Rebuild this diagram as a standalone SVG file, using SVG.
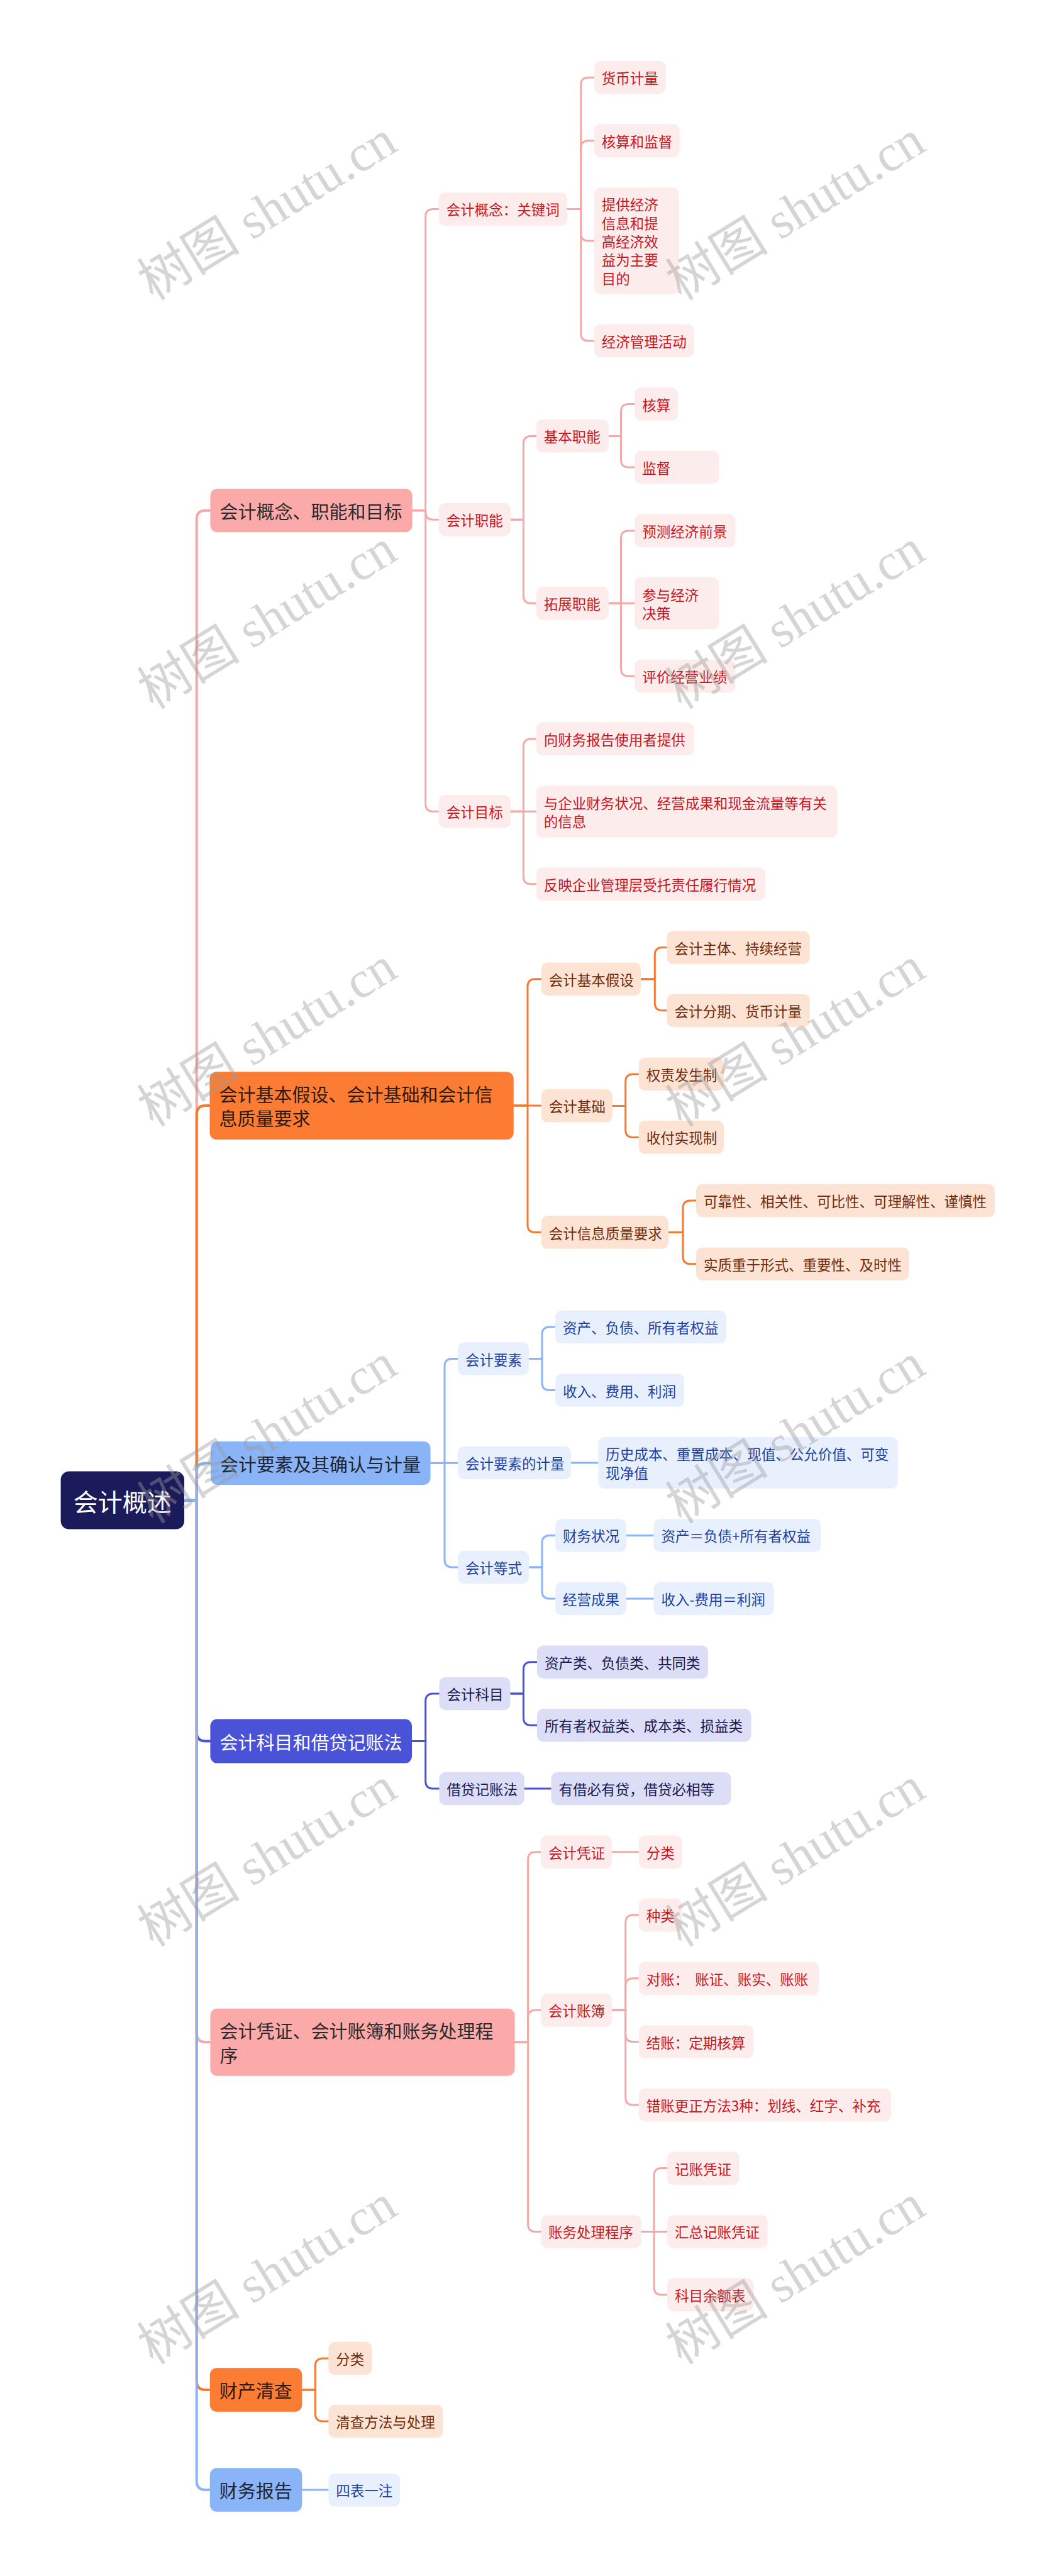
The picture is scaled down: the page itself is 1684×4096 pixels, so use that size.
<svg xmlns="http://www.w3.org/2000/svg" width="1684" height="4096" viewBox="0 0 1684 4096">
<style>
text{font-family:"Noto Sans CJK SC","Noto Sans",sans-serif;dominant-baseline:central}
.tm{font-size:29px;fill:#2b2b2b}
.ts{font-size:22.5px}
.root{fill:#1b1a5a}
.m1{fill:#fba9a9}.m2{fill:#fc7c33}.m3{fill:#8ab4f8}.m4{fill:#4a52d8}
.s1{fill:#fdecec}.s2{fill:#fde3d3}.s3{fill:#e8f0fe}.s4{fill:#dcddf7}
.p1{fill:#c8171e}.p2{fill:#6e2c0c}.p3{fill:#1c3fa3}.p4{fill:#1a1a50}
#connectors path{fill:none;stroke-linecap:round}
.c1{stroke:#f5a8a8}.c2{stroke:#f47a30}.c3{stroke:#8ab4f8}.c4{stroke:#4a52d8}
.w4{stroke-width:4}.w3{stroke-width:3}
.wm{font-family:"Liberation Serif","Noto Sans CJK SC",serif;font-size:82px;fill:#9a9a9a;fill-opacity:0.42;text-anchor:middle}
</style>
<rect x="0" y="0" width="1684" height="4096" fill="#ffffff"/>
<g id="connectors">
<!-- root to main -->
<path class="c1 w4" d="M293 2385.6 H312.7 V825.7 Q312.7 811.7 326.7 811.7 H334.4"/>
<path class="c2 w4" d="M293 2385.6 H312.7 V1772 Q312.7 1758 326.7 1758 H334.4"/>
<path class="c3 w4" d="M293 2385.6 H312.7 V2340.5 Q312.7 2326.5 326.7 2326.5 H334.4"/>
<path class="c4 w4" d="M293 2385.6 H312.7 V2754.6 Q312.7 2768.6 326.7 2768.6 H334.4"/>
<path class="c1 w4" d="M293 2385.6 H312.7 V3233 Q312.7 3247 326.7 3247 H334.4"/>
<path class="c2 w4" d="M293 2385.6 H312.7 V3786 Q312.7 3800 326.7 3800 H334.4"/>
<path class="c3 w4" d="M293 2385.6 H312.7 V3945 Q312.7 3959 326.7 3959 H334.4"/>
<!-- branch 1 -->
<path class="c1 w3" d="M655.7 811.7 H676.7 V344.4 Q676.7 332.4 688.7 332.4 H697.7"/>
<path class="c1 w3" d="M655.7 811.7 H676.7 V814.2 Q676.7 826.2 688.7 826.2 H697.7"/>
<path class="c1 w3" d="M655.7 811.7 H676.7 V1278.3 Q676.7 1290.3 688.7 1290.3 H697.7"/>
<path class="c1 w3" d="M902 332.4 H923.7 V135.2 Q923.7 123.2 935.7 123.2 H944.8"/>
<path class="c1 w3" d="M902 332.4 H923.7 V235.7 Q923.7 223.7 935.7 223.7 H944.8"/>
<path class="c1 w3" d="M902 332.4 H923.7 V371 Q923.7 383 935.7 383 H944.8"/>
<path class="c1 w3" d="M902 332.4 H923.7 V530 Q923.7 542 935.7 542 H944.8"/>
<path class="c1 w3" d="M812 826.2 H832.4 V705.4 Q832.4 693.4 844.4 693.4 H852.8"/>
<path class="c1 w3" d="M812 826.2 H832.4 V947.2 Q832.4 959.2 844.4 959.2 H852.8"/>
<path class="c1 w3" d="M967.8 693.4 H987.5 V654.5 Q987.5 642.5 999.5 642.5 H1009.2"/>
<path class="c1 w3" d="M967.8 693.4 H987.5 V731 Q987.5 743 999.5 743 H1009.2"/>
<path class="c1 w3" d="M967.8 959.2 H987.5 V856 Q987.5 844 999.5 844 H1009.2"/>
<path class="c1 w3" d="M967.8 959.2 H1009.2"/>
<path class="c1 w3" d="M967.8 959.2 H987.5 V1063 Q987.5 1075 999.5 1075 H1009.2"/>
<path class="c1 w3" d="M812 1290.3 H832.4 V1187 Q832.4 1175 844.4 1175 H852.8"/>
<path class="c1 w3" d="M812 1290.3 H852.8"/>
<path class="c1 w3" d="M812 1290.3 H832.4 V1393.7 Q832.4 1405.7 844.4 1405.7 H852.8"/>
<!-- branch 2 -->
<path class="c2 w3" d="M816.7 1758 H839 V1568.7 Q839 1556.7 851 1556.7 H860.7"/>
<path class="c2 w3" d="M816.7 1758 H860.7"/>
<path class="c2 w3" d="M816.7 1758 H839 V1947.5 Q839 1959.5 851 1959.5 H860.7"/>
<path class="c2 w3" d="M1019 1556.7 H1041.3 V1518.5 Q1041.3 1506.5 1053.3 1506.5 H1060.4"/>
<path class="c2 w3" d="M1019 1556.7 H1041.3 V1594.7 Q1041.3 1606.7 1053.3 1606.7 H1060.4"/>
<path class="c2 w3" d="M973.7 1758.4 H994.7 V1720 Q994.7 1708 1006.7 1708 H1015.7"/>
<path class="c2 w3" d="M973.7 1758.4 H994.7 V1796.4 Q994.7 1808.4 1006.7 1808.4 H1015.7"/>
<path class="c2 w3" d="M1063 1959.5 H1086 V1921 Q1086 1909 1098 1909 H1107"/>
<path class="c2 w3" d="M1063 1959.5 H1086 V1997.7 Q1086 2009.7 1098 2009.7 H1107"/>
<!-- branch 3 -->
<path class="c3 w3" d="M684.6 2326.5 H707 V2172.5 Q707 2160.5 719 2160.5 H728"/>
<path class="c3 w3" d="M684.6 2326.2 H728"/>
<path class="c3 w3" d="M684.6 2326.5 H707 V2480 Q707 2492 719 2492 H728"/>
<path class="c3 w3" d="M841 2160.5 H862 V2122 Q862 2110 874 2110 H883"/>
<path class="c3 w3" d="M841 2160.5 H862 V2198.5 Q862 2210.5 874 2210.5 H883"/>
<path class="c3 w3" d="M908 2326 H951.3"/>
<path class="c3 w3" d="M841 2492 H862 V2453.4 Q862 2441.4 874 2441.4 H883"/>
<path class="c3 w3" d="M841 2492 H862 V2530 Q862 2542 874 2542 H883"/>
<path class="c3 w3" d="M996 2441.4 H1039.4"/>
<path class="c3 w3" d="M996 2542 H1039.4"/>
<!-- branch 4 -->
<path class="c4 w3" d="M655 2768.6 H676.7 V2705 Q676.7 2693 688.7 2693 H698.4"/>
<path class="c4 w3" d="M655 2768.6 H676.7 V2832 Q676.7 2844 688.7 2844 H698.4"/>
<path class="c4 w3" d="M811.4 2693 H832.4 V2654.7 Q832.4 2642.7 844.4 2642.7 H854"/>
<path class="c4 w3" d="M811.4 2693 H832.4 V2731.3 Q832.4 2743.3 844.4 2743.3 H854"/>
<path class="c4 w3" d="M833.7 2844 H876.4"/>
<!-- branch 5 -->
<path class="c1 w3" d="M818.6 3247 H839.6 V2956.7 Q839.6 2944.7 851.6 2944.7 H860"/>
<path class="c1 w3" d="M818.6 3247 H839.6 V3208.3 Q839.6 3196.3 851.6 3196.3 H860"/>
<path class="c1 w3" d="M818.6 3247 H839.6 V3536.4 Q839.6 3548.4 851.6 3548.4 H860"/>
<path class="c1 w3" d="M973 2944.7 H1015.7"/>
<path class="c1 w3" d="M973 3196.3 H994.7 V3057 Q994.7 3045 1006.7 3045 H1015.7"/>
<path class="c1 w3" d="M973 3196.3 H994.7 V3157.7 Q994.7 3145.7 1006.7 3145.7 H1015.7"/>
<path class="c1 w3" d="M973 3196.3 H994.7 V3234.5 Q994.7 3246.5 1006.7 3246.5 H1015.7"/>
<path class="c1 w3" d="M973 3196.3 H994.7 V3335 Q994.7 3347 1006.7 3347 H1015.7"/>
<path class="c1 w3" d="M1019.6 3548.4 H1040 V3459.6 Q1040 3447.6 1052 3447.6 H1061"/>
<path class="c1 w3" d="M1019.6 3548.4 H1061"/>
<path class="c1 w3" d="M1019.6 3548.4 H1040 V3636.7 Q1040 3648.7 1052 3648.7 H1061"/>
<!-- branch 6, 7 -->
<path class="c2 w3" d="M480.3 3800 H501.3 V3762 Q501.3 3750 513.3 3750 H522.3"/>
<path class="c2 w3" d="M480.3 3800 H501.3 V3838 Q501.3 3850 513.3 3850 H522.3"/>
<path class="c3 w3" d="M480.3 3959 H522.3"/>
</g>

<g id="root"><rect class="root" x="96.6" y="2339.6" width="196.4" height="92" rx="13"/><text x="194.8" y="2385.6" font-size="39" fill="#ffffff" text-anchor="middle">会计概述</text></g>

<!-- main 1 -->
<g id="m1"><rect class="m1" x="334.4" y="777.2" width="321.3" height="69" rx="11"/><text class="tm" x="349.5" y="811.7">会计概念、职能和目标</text></g>
<g id="n1-1"><rect class="s1" x="697.7" y="306.2" width="204.3" height="52.5" rx="10"/><text class="ts p1" x="709.7" y="332.4">会计概念：关键词</text></g>
<g id="n1-1-1"><rect class="s1" x="944.8" y="97" width="113.6" height="52.5" rx="10"/><text class="ts p1" x="956.8" y="123.2">货币计量</text></g>
<g id="n1-1-2"><rect class="s1" x="944.8" y="197.5" width="136" height="52.5" rx="10"/><text class="ts p1" x="956.8" y="223.7">核算和监督</text></g>
<g id="n1-1-3"><rect class="s1" x="944.8" y="298.3" width="134.7" height="169.5" rx="10"/><text class="ts p1" x="956.8" y="324.4">提供经济</text><text class="ts p1" x="956.8" y="353.7">信息和提</text><text class="ts p1" x="956.8" y="383">高经济效</text><text class="ts p1" x="956.8" y="412.3">益为主要</text><text class="ts p1" x="956.8" y="441.6">目的</text></g>
<g id="n1-1-4"><rect class="s1" x="944.8" y="515.7" width="159" height="52.5" rx="10"/><text class="ts p1" x="956.8" y="542">经济管理活动</text></g>
<g id="n1-2"><rect class="s1" x="697.7" y="800" width="114.3" height="52.5" rx="10"/><text class="ts p1" x="709.7" y="826.2">会计职能</text></g>
<g id="n1-2-1"><rect class="s1" x="852.8" y="667.1" width="115" height="52.5" rx="10"/><text class="ts p1" x="864.8" y="693.4">基本职能</text></g>
<g id="n1-2-1-1"><rect class="s1" x="1009.2" y="616.2" width="69" height="52.5" rx="10"/><text class="ts p1" x="1021.2" y="642.5">核算</text></g>
<g id="n1-2-1-2"><rect class="s1" x="1009.2" y="716.7" width="134" height="52.5" rx="10"/><text class="ts p1" x="1021.2" y="743">监督</text></g>
<g id="n1-2-2"><rect class="s1" x="852.8" y="933" width="115" height="52.5" rx="10"/><text class="ts p1" x="864.8" y="959.2">拓展职能</text></g>
<g id="n1-2-2-1"><rect class="s1" x="1009.2" y="817.7" width="160.3" height="52.5" rx="10"/><text class="ts p1" x="1021.2" y="844">预测经济前景</text></g>
<g id="n1-2-2-2"><rect class="s1" x="1009.2" y="917.8" width="134" height="82.8" rx="10"/><text class="ts p1" x="1021.2" y="944.5">参与经济</text><text class="ts p1" x="1021.2" y="973.9">决策</text></g>
<g id="n1-2-2-3"><rect class="s1" x="1009.2" y="1048.7" width="160.3" height="52.5" rx="10"/><text class="ts p1" x="1021.2" y="1075">评价经营业绩</text></g>
<g id="n1-3"><rect class="s1" x="697.7" y="1264" width="114.3" height="52.5" rx="10"/><text class="ts p1" x="709.7" y="1290.3">会计目标</text></g>
<g id="n1-3-1"><rect class="s1" x="852.8" y="1148.7" width="251" height="52.5" rx="10"/><text class="ts p1" x="864.8" y="1175">向财务报告使用者提供</text></g>
<g id="n1-3-2"><rect class="s1" x="852.8" y="1249.6" width="479" height="82.1" rx="10"/><text class="ts p1" x="864.8" y="1276">与企业财务状况、经营成果和现金流量等有关</text><text class="ts p1" x="864.8" y="1305.4">的信息</text></g>
<g id="n1-3-3"><rect class="s1" x="852.8" y="1379.4" width="364" height="52.5" rx="10"/><text class="ts p1" x="864.8" y="1405.7">反映企业管理层受托责任履行情况</text></g>

<!-- main 2 -->
<g id="m2"><rect class="m2" x="333.5" y="1704.3" width="483.2" height="107.7" rx="11"/><text class="tm" x="348.5" y="1739.3" fill="#2e1a0e" style="fill:#2e1a0e">会计基本假设、会计基础和会计信</text><text class="tm" x="348.5" y="1777.3" style="fill:#2e1a0e">息质量要求</text></g>
<g id="n2-1"><rect class="s2" x="860.7" y="1530.4" width="158.3" height="52.5" rx="10"/><text class="ts p2" x="872.7" y="1556.7">会计基本假设</text></g>
<g id="n2-1-1"><rect class="s2" x="1060.4" y="1480.2" width="227.3" height="52.5" rx="10"/><text class="ts p2" x="1072.4" y="1506.5">会计主体、持续经营</text></g>
<g id="n2-1-2"><rect class="s2" x="1060.4" y="1580.4" width="227.3" height="52.5" rx="10"/><text class="ts p2" x="1072.4" y="1606.7">会计分期、货币计量</text></g>
<g id="n2-2"><rect class="s2" x="860.7" y="1732.1" width="113" height="52.5" rx="10"/><text class="ts p2" x="872.7" y="1758.4">会计基础</text></g>
<g id="n2-2-1"><rect class="s2" x="1015.7" y="1681.7" width="135.3" height="52.5" rx="10"/><text class="ts p2" x="1027.7" y="1708">权责发生制</text></g>
<g id="n2-2-2"><rect class="s2" x="1015.7" y="1782.1" width="135.3" height="52.5" rx="10"/><text class="ts p2" x="1027.7" y="1808.4">收付实现制</text></g>
<g id="n2-3"><rect class="s2" x="860.7" y="1933.2" width="202.3" height="52.5" rx="10"/><text class="ts p2" x="872.7" y="1959.5">会计信息质量要求</text></g>
<g id="n2-3-1"><rect class="s2" x="1107" y="1882.7" width="475" height="52.5" rx="10"/><text class="ts p2" x="1119" y="1909">可靠性、相关性、可比性、可理解性、谨慎性</text></g>
<g id="n2-3-2"><rect class="s2" x="1107" y="1983.4" width="338.4" height="52.5" rx="10"/><text class="ts p2" x="1119" y="2009.7">实质重于形式、重要性、及时性</text></g>

<!-- main 3 -->
<g id="m3"><rect class="m3" x="335" y="2292" width="349.6" height="69" rx="11"/><text class="tm" x="350" y="2326.5" style="fill:#1f2633">会计要素及其确认与计量</text></g>
<g id="n3-1"><rect class="s3" x="728" y="2134.2" width="113" height="52.5" rx="10"/><text class="ts p3" x="740" y="2160.5">会计要素</text></g>
<g id="n3-1-1"><rect class="s3" x="883" y="2083.8" width="272" height="52.5" rx="10"/><text class="ts p3" x="895" y="2110">资产、负债、所有者权益</text></g>
<g id="n3-1-2"><rect class="s3" x="883" y="2184.2" width="205" height="52.5" rx="10"/><text class="ts p3" x="895" y="2210.5">收入、费用、利润</text></g>
<g id="n3-2"><rect class="s3" x="728" y="2299.7" width="180" height="52.5" rx="10"/><text class="ts p3" x="740" y="2326">会计要素的计量</text></g>
<g id="n3-2-1"><rect class="s3" x="951.3" y="2285" width="476.4" height="82" rx="10"/><text class="ts p3" x="963.3" y="2311.3">历史成本、重置成本、现值、公允价值、可变</text><text class="ts p3" x="963.3" y="2340.7">现净值</text></g>
<g id="n3-3"><rect class="s3" x="728" y="2465.7" width="113" height="52.5" rx="10"/><text class="ts p3" x="740" y="2492">会计等式</text></g>
<g id="n3-3-1"><rect class="s3" x="883" y="2415.2" width="113" height="52.5" rx="10"/><text class="ts p3" x="895" y="2441.4">财务状况</text></g>
<g id="n3-3-1-1"><rect class="s3" x="1039.4" y="2415.2" width="266" height="52.5" rx="10"/><text class="ts p3" x="1051.4" y="2441.4">资产＝负债+所有者权益</text></g>
<g id="n3-3-2"><rect class="s3" x="883" y="2515.8" width="113" height="52.5" rx="10"/><text class="ts p3" x="895" y="2542">经营成果</text></g>
<g id="n3-3-2-1"><rect class="s3" x="1039.4" y="2515.8" width="191.2" height="52.5" rx="10"/><text class="ts p3" x="1051.4" y="2542">收入-费用＝利润</text></g>

<!-- main 4 -->
<g id="m4"><rect class="m4" x="334.4" y="2733.6" width="320.6" height="70" rx="11"/><text class="tm" x="349.5" y="2768.6" style="fill:#ffffff">会计科目和借贷记账法</text></g>
<g id="n4-1"><rect class="s4" x="698.4" y="2666.8" width="113" height="52.5" rx="10"/><text class="ts p4" x="710.4" y="2693">会计科目</text></g>
<g id="n4-1-1"><rect class="s4" x="854" y="2616.5" width="272" height="52.5" rx="10"/><text class="ts p4" x="866" y="2642.7">资产类、负债类、共同类</text></g>
<g id="n4-1-2"><rect class="s4" x="854" y="2717" width="340.4" height="52.5" rx="10"/><text class="ts p4" x="866" y="2743.3">所有者权益类、成本类、损益类</text></g>
<g id="n4-2"><rect class="s4" x="698.4" y="2817.8" width="135.3" height="52.5" rx="10"/><text class="ts p4" x="710.4" y="2844">借贷记账法</text></g>
<g id="n4-2-1"><rect class="s4" x="876.4" y="2817.8" width="285.8" height="52.5" rx="10"/><text class="ts p4" x="888.4" y="2844">有借必有贷，借贷必相等</text></g>

<!-- main 5 -->
<g id="m5"><rect class="m1" x="334.4" y="3193.7" width="484.2" height="107" rx="11"/><text class="tm" x="349.5" y="3227.6">会计凭证、会计账簿和账务处理程</text><text class="tm" x="349.5" y="3267">序</text></g>
<g id="n5-1"><rect class="s1" x="860" y="2918.5" width="113" height="52.5" rx="10"/><text class="ts p1" x="872" y="2944.7">会计凭证</text></g>
<g id="n5-1-1"><rect class="s1" x="1015.7" y="2918.5" width="69" height="52.5" rx="10"/><text class="ts p1" x="1027.7" y="2944.7">分类</text></g>
<g id="n5-2"><rect class="s1" x="860" y="3170" width="113" height="52.5" rx="10"/><text class="ts p1" x="872" y="3196.3">会计账簿</text></g>
<g id="n5-2-1"><rect class="s1" x="1015.7" y="3018.8" width="69" height="52.5" rx="10"/><text class="ts p1" x="1027.7" y="3045">种类</text></g>
<g id="n5-2-2"><rect class="s1" x="1015.7" y="3119.5" width="286.5" height="52.5" rx="10"/><text class="ts p1" x="1027.7" y="3145.7" xml:space="preserve">对账：  账证、账实、账账</text></g>
<g id="n5-2-3"><rect class="s1" x="1015.7" y="3220.3" width="182.7" height="52.5" rx="10"/><text class="ts p1" x="1027.7" y="3246.5">结账：定期核算</text></g>
<g id="n5-2-4"><rect class="s1" x="1015.7" y="3320.8" width="401.4" height="52.5" rx="10"/><text class="ts p1" x="1027.7" y="3347">错账更正方法3种：划线、红字、补充</text></g>
<g id="n5-3"><rect class="s1" x="860" y="3522.2" width="159.6" height="52.5" rx="10"/><text class="ts p1" x="872" y="3548.4">账务处理程序</text></g>
<g id="n5-3-1"><rect class="s1" x="1061" y="3421.4" width="114.4" height="52.5" rx="10"/><text class="ts p1" x="1073" y="3447.6">记账凭证</text></g>
<g id="n5-3-2"><rect class="s1" x="1061" y="3522.2" width="159.7" height="52.5" rx="10"/><text class="ts p1" x="1073" y="3548.4">汇总记账凭证</text></g>
<g id="n5-3-3"><rect class="s1" x="1061" y="3622.5" width="137.4" height="52.5" rx="10"/><text class="ts p1" x="1073" y="3648.7">科目余额表</text></g>

<!-- main 6 -->
<g id="m6"><rect class="m2" x="333.8" y="3765.3" width="146.5" height="69.5" rx="11"/><text class="tm" x="348.8" y="3800" style="fill:#2e1a0e">财产清查</text></g>
<g id="n6-1"><rect class="s2" x="522.3" y="3723.8" width="69" height="52.5" rx="10"/><text class="ts p2" x="534.3" y="3750">分类</text></g>
<g id="n6-2"><rect class="s2" x="522.3" y="3823.8" width="182" height="52.5" rx="10"/><text class="ts p2" x="534.3" y="3850">清查方法与处理</text></g>

<!-- main 7 -->
<g id="m7"><rect class="m3" x="333.8" y="3924.3" width="146.5" height="69.5" rx="11"/><text class="tm" x="348.8" y="3959" style="fill:#1f2633">财务报告</text></g>
<g id="n7-1"><rect class="s3" x="522.3" y="3933.2" width="113.7" height="52.5" rx="10"/><text class="ts p3" x="534.3" y="3959.4">四表一注</text></g>

<g id="watermarks">
<text class="wm" transform="translate(425 335) rotate(-31.6)">树图 shutu.cn</text>
<text class="wm" transform="translate(1265 335) rotate(-31.6)">树图 shutu.cn</text>
<text class="wm" transform="translate(425 985) rotate(-31.6)">树图 shutu.cn</text>
<text class="wm" transform="translate(1265 985) rotate(-31.6)">树图 shutu.cn</text>
<text class="wm" transform="translate(425 1649) rotate(-31.6)">树图 shutu.cn</text>
<text class="wm" transform="translate(1265 1649) rotate(-31.6)">树图 shutu.cn</text>
<text class="wm" transform="translate(425 2280) rotate(-31.6)">树图 shutu.cn</text>
<text class="wm" transform="translate(1265 2280) rotate(-31.6)">树图 shutu.cn</text>
<text class="wm" transform="translate(425 2953) rotate(-31.6)">树图 shutu.cn</text>
<text class="wm" transform="translate(1265 2953) rotate(-31.6)">树图 shutu.cn</text>
<text class="wm" transform="translate(425 3617) rotate(-31.6)">树图 shutu.cn</text>
<text class="wm" transform="translate(1265 3617) rotate(-31.6)">树图 shutu.cn</text>
</g>
</svg>
